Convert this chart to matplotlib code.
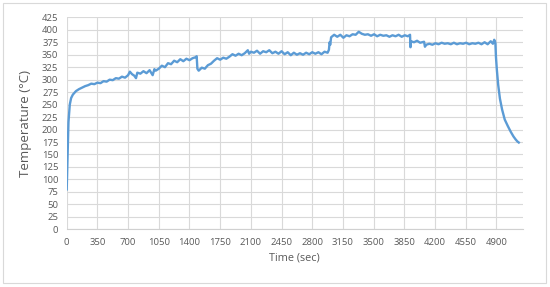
import matplotlib
matplotlib.use("Agg")
import matplotlib.pyplot as plt
from matplotlib.patches import Rectangle

# temperature log (time in sec, temperature in degC)
time_s = [0, 10, 20, 35, 50, 70, 105, 140, 175, 210, 245, 280, 315, 350, 385, 420, 455,
          490, 525, 560, 595, 630, 665, 700, 720, 745, 770, 790, 805, 840, 875, 910, 945,
          980, 1000, 1015, 1050, 1085, 1120, 1155, 1190, 1225, 1260, 1295, 1330, 1365,
          1400, 1435, 1470, 1482, 1490, 1505, 1540, 1575, 1610, 1645, 1680, 1715, 1750,
          1785, 1820, 1855, 1890, 1925, 1960, 1995, 2030, 2065, 2080, 2100, 2135, 2170,
          2205, 2240, 2275, 2310, 2345, 2380, 2415, 2450, 2485, 2520, 2555, 2590, 2625,
          2660, 2695, 2730, 2765, 2800, 2835, 2870, 2905, 2940, 2975, 2990, 2998, 3005,
          3015, 3050, 3085, 3120, 3155, 3190, 3225, 3260, 3295, 3330, 3365, 3400, 3435,
          3470, 3505, 3540, 3575, 3610, 3645, 3680, 3715, 3750, 3785, 3820, 3855, 3890,
          3915, 3920, 3925, 3960, 3995, 4030, 4075, 4085, 4100, 4135, 4170, 4205, 4240,
          4275, 4310, 4345, 4380, 4415, 4450, 4485, 4520, 4555, 4590, 4625, 4660, 4695,
          4730, 4765, 4800, 4835, 4860, 4875, 4888, 4895, 4905, 4920, 4940, 4965, 4995,
          5030, 5065, 5095, 5120, 5140, 5155]
temp_c = [80, 150, 215, 250, 263, 270, 277, 281, 284, 287, 289, 292, 291, 294, 293, 297, 296,
          300, 299, 303, 302, 306, 304, 309, 316, 311, 308, 303, 314, 312, 317, 313, 319,
          309, 321, 318, 322, 328, 325, 333, 331, 338, 335, 341, 337, 342,
          339, 343, 345, 347, 322, 318, 324, 322, 329, 332, 338, 343, 340,
          344, 342, 346, 351, 348, 352, 349, 353, 359, 352, 356, 354, 358,
          352, 357, 355, 359, 353, 356, 352, 357, 351, 355, 349, 354, 350,
          353, 350, 354, 351, 355, 352, 355, 351, 356, 354, 360, 375, 370,
          385, 390, 386, 390, 384, 389, 387, 391, 390, 396, 392, 390, 391,
          388, 391, 387, 390, 388, 389, 386, 389, 387, 390, 386, 389, 387,
          390, 365, 377, 375, 378, 374, 376, 366, 370, 372, 370, 373, 371,
          374, 372, 373, 371, 374, 371, 373, 372, 374, 371, 373, 372, 374,
          371, 375, 371, 377, 372, 380, 374, 345, 320, 290, 262, 240, 220,
          207, 195, 186, 180, 176, 174]

x_ticks = list(range(0, 5250, 350))
y_ticks = list(range(0, 450, 25))

plt.rcParams['font.family'] = ['Open Sans', 'DejaVu Sans']

fig = plt.figure(figsize=(5.5, 2.87), dpi=100)
ax = fig.add_axes([0.1213, 0.201, 0.8291, 0.7387])

ax.plot(time_s, temp_c, color='#5B9BD5', linewidth=1.7, solid_joinstyle='round')

ax.set_xlim(0, 5200)
ax.set_ylim(0, 425)
ax.set_xticks(x_ticks)
ax.set_yticks(y_ticks)
ax.grid(True, color='#D9D9D9', linewidth=0.8)
ax.set_axisbelow(True)
for s in ['top', 'right', 'left']:
    ax.spines[s].set_visible(False)
ax.spines['bottom'].set_color('#D0D0D0')
ax.tick_params(length=0, labelsize=6.8, colors='#595959', pad=6)
ax.set_xlabel("Time (sec)", fontsize=7.8, color='#595959', labelpad=4)
ax.set_ylabel("Temperature (°C)", fontsize=9.5, color='#595959', labelpad=7)

# light border around the chart
fig.patches.append(Rectangle((3 / 550, 4 / 287), 543 / 550, 280 / 287, transform=fig.transFigure,
                             fill=False, edgecolor='#D9D9D9', linewidth=0.8))

fig.savefig("out.png", dpi=100)
